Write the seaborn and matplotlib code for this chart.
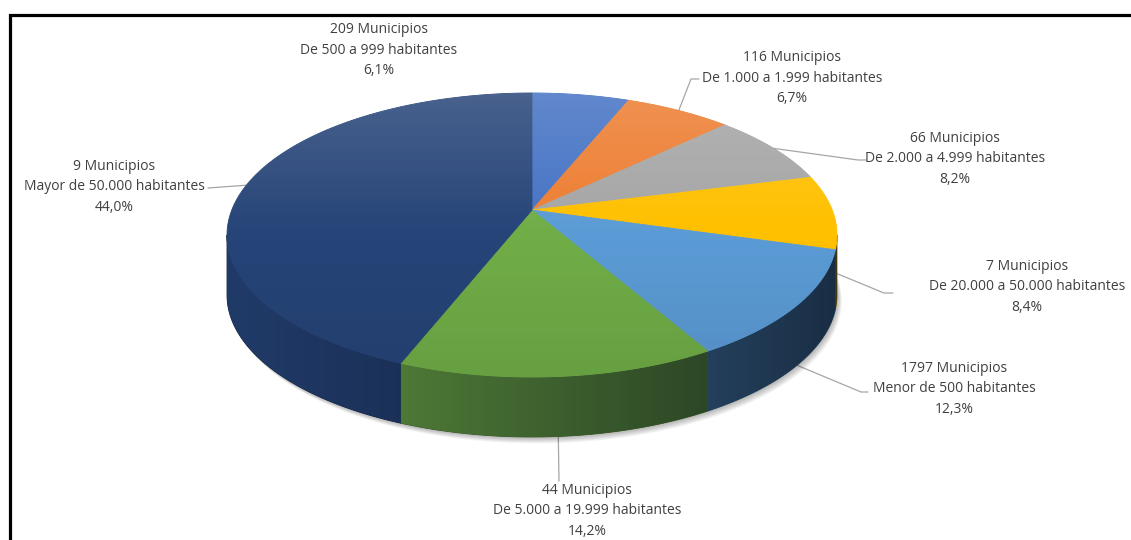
import numpy as np
import matplotlib
matplotlib.use("Agg")
import matplotlib.pyplot as plt
import seaborn as sns
from matplotlib.path import Path
from matplotlib.patches import Polygon
from matplotlib.transforms import Transform, Affine2D

# Datos: municipios por tamaño de población
municipios = [209, 116, 66, 7, 1797, 44, 9]
rangos = ["De 500 a 999 habitantes",
          "De 1.000 a 1.999 habitantes",
          "De 2.000 a 4.999 habitantes",
          "De 20.000 a 50.000 habitantes",
          "Menor de 500 habitantes",
          "De 5.000 a 19.999 habitantes",
          "Mayor de 50.000 habitantes"]
porcentaje = [6.1, 6.7, 8.2, 8.4, 12.3, 14.2, 44.0]

colores = ["#4472C4", "#ED7D31", "#A5A5A5", "#FFC000", "#5B9BD5", "#70AD47", "#264478"]

# layout (pixeles)
CX, CY = 532, 235
RX, RY = 305, 142
PROF = 60
K = 0.176
pos_texto = [(379, 50), (792, 78), (955, 159), (1027, 287), (954, 389), (587, 511), (114, 187)]
codos = [None, [(691, 79), (699, 79)], [(858, 160), (866, 160)], [(884, 293), (893, 293)],
         [(861, 392), (868, 392)], [(559, 481)], [(208, 188)]]


class Perspectiva(Transform):
    '''Proyeccion simple de un disco inclinado (efecto 3D tipo Excel)'''
    input_dims = 2
    output_dims = 2
    is_separable = False
    has_inverse = False

    def __init__(self, k):
        super().__init__()
        self.k = k

    def transform_non_affine(self, values):
        values = np.asarray(values, dtype=float)
        u, v = values[:, 0], values[:, 1]
        d = 1 + self.k * v
        return np.column_stack([u * np.sqrt(1 - self.k ** 2) / d, (v + self.k) / d])

    def transform_path_non_affine(self, path):
        t = np.linspace(0, 1, 30)
        pts = np.concatenate([bez(t) for bez, code in path.iter_bezier()])
        pts = np.vstack([pts, pts[:1]])
        return Path(self.transform_non_affine(pts), closed=True)


sns.set_theme(style="white")
plt.rcParams['font.family'] = ['Open Sans', 'DejaVu Sans']

fig = plt.figure(figsize=(11.31, 5.40), dpi=100)
ax = fig.add_axes([0, 0, 1, 1])

a_pixel = Perspectiva(K) + Affine2D().scale(RX, -RY).translate(CX, CY)

# caras superiores con el pie de matplotlib
wedges, _ = ax.pie(porcentaje, colors=colores, startangle=90, counterclock=False,
                   wedgeprops={'linewidth': 0.6})
for w in wedges:
    w.set_edgecolor(w.get_facecolor())
    w.set_transform(a_pixel + ax.transData)
    w.set_zorder(3)

# angulos de cada porcion
frac = np.array(porcentaje) / np.sum(porcentaje)
fin = 90 - 360 * np.cumsum(frac)
ini = fin + 360 * frac
medio = (fin + ini) / 2
lim = np.degrees(np.arcsin(K))


def arco(a0, a1, n=80):
    th = np.radians(np.linspace(a0, a1, n))
    return a_pixel.transform(np.column_stack([np.cos(th), np.sin(th)]))


# sombra bajo el pastel
elipse = arco(0, 360, 200)
for s in range(1, 9):
    ax.fill(elipse[:, 0] + s * 0.6, elipse[:, 1] + PROF + s * 0.8,
            color='black', alpha=0.04, lw=0, zorder=1)

# caras laterales con degradado horizontal
xs = np.linspace(CX - RX, CX + RX, 300)
brillo = np.clip(0.85 - (xs - (CX - RX)) * 0.00097, 0.2, 1)
for i in range(len(porcentaje)):
    lo, hi = max(fin[i], -180 + lim), min(ini[i], -lim)
    if hi <= lo:
        continue
    top = arco(lo, hi)
    poly = np.vstack([top, (top + [0, PROF])[::-1]])
    base = np.array(matplotlib.colors.to_rgb(colores[i]))
    ax.fill(poly[:, 0], poly[:, 1], color=base * 0.5, lw=0.6, zorder=2)
    img = (base[None, :] * brillo[:, None] + np.array([0.01, 0.03, 0.07]) * (1 - brillo[:, None]))
    im = ax.imshow(np.clip(img, 0, 1)[None, :, :], extent=(CX - RX, CX + RX, CY + RY + PROF + 10, CY - RY),
                   aspect='auto', interpolation='bilinear', zorder=2.5)
    im.set_clip_path(Polygon(poly, closed=True, transform=ax.transData))

# brillo de la cara superior
ramp = np.zeros((200, 1, 4))
yy = np.linspace(-1, 1, 200)
ramp[:, 0, :3] = np.where(yy[:, None] < 0, 1.0, 0.0)
ramp[:, 0, 3] = np.where(yy < 0, 0.16 * -yy, 0.08 * yy)
im = ax.imshow(ramp, extent=(CX - RX, CX + RX, CY + RY, CY - RY), aspect='auto',
               interpolation='bilinear', zorder=3.5)
im.set_clip_path(Polygon(elipse, closed=True, transform=ax.transData))

# etiquetas y lineas guia
for i in range(len(porcentaje)):
    pct = f"{porcentaje[i]:.1f}".replace(".", ",") + "%"
    texto = f"{municipios[i]} Municipios\n{rangos[i]}\n{pct}"
    ax.text(*pos_texto[i], texto, ha='center', va='center', fontsize=10,
            color='#404040', linespacing=1.47, zorder=5)
    if codos[i] is None:
        continue
    ancla = a_pixel.transform([[np.cos(np.radians(medio[i])), np.sin(np.radians(medio[i]))]])[0]
    if -180 < medio[i] < 0:
        ancla = ancla + [0, PROF]
    pts = np.vstack([ancla, codos[i]])
    ax.plot(pts[:, 0], pts[:, 1], color='#A6A6A6', lw=0.9, zorder=0.5)

# marco
ax.plot([9.5, 9.5, 1140], [545, 14.5, 14.5], color='black', lw=2.3, zorder=6,
        solid_joinstyle='miter', clip_on=False)

ax.set_xlim(0, 1131)
ax.set_ylim(540, 0)
ax.set_aspect('auto')
ax.axis('off')

plt.savefig('out.png', dpi=100)
